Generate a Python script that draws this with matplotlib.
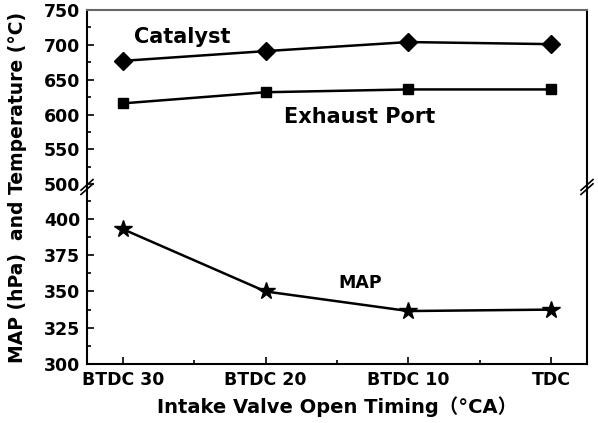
import matplotlib

matplotlib.use("Agg")

import matplotlib.pyplot as plt
from matplotlib.ticker import MultipleLocator

plt.rcParams["font.family"] = ["DejaVu Sans", "Noto Sans CJK SC"]
plt.rcParams["font.weight"] = "bold"
plt.rcParams["axes.labelweight"] = "bold"

TIMING_LABELS = ["BTDC 30", "BTDC 20", "BTDC 10", "TDC"]
CATALYST_TEMP = [677, 691, 704, 701]
EXHAUST_TEMP = [616, 632, 636, 636]
MAP_HPA = [393, 350, 336.5, 337.5]

x = list(range(len(TIMING_LABELS)))

fig = plt.figure(figsize=(5.98, 4.23), dpi=100)
left, right = 87 / 598, 587 / 598
top, mid, bottom = 1 - 10 / 423, 1 - 187 / 423, 1 - 364 / 423
ax_top = fig.add_axes([left, mid, right - left, top - mid])
ax_bot = fig.add_axes([left, bottom, right - left, mid - bottom])

line_kw = dict(color="black", linewidth=1.8)
ax_top.plot(x, CATALYST_TEMP, marker="D", markersize=9, **line_kw)
ax_top.plot(x, EXHAUST_TEMP, marker="s", markersize=7.5, **line_kw)
ax_bot.plot(x, MAP_HPA, marker="*", markersize=13, **line_kw)

ax_top.set_ylim(496, 750)
ax_bot.set_ylim(300, 422)
for ax in (ax_top, ax_bot):
    ax.set_xlim(-0.25, 3.25)
    ax.xaxis.set_minor_locator(MultipleLocator(0.5))
    ax.tick_params(which="both", direction="in", right=False, top=False, labelsize=12.5)
    ax.tick_params(which="major", length=5, width=1.2, pad=5)
    ax.tick_params(which="minor", length=3, width=1.2)
    for spine in ax.spines.values():
        spine.set_linewidth(1.5)

ax_top.yaxis.set_major_locator(MultipleLocator(50))
ax_top.yaxis.set_minor_locator(MultipleLocator(25))
ax_bot.yaxis.set_major_locator(MultipleLocator(25))
ax_bot.yaxis.set_minor_locator(MultipleLocator(12.5))

ax_top.spines["bottom"].set_visible(False)
ax_top.spines["top"].set_color("#666666")
ax_top.tick_params(axis="x", which="both", bottom=False, labelbottom=False)
ax_bot.spines["top"].set_visible(False)
ax_bot.set_xticks(x)
ax_bot.set_xticklabels(TIMING_LABELS)

# break marks on the left and right spines
for xs in (0, 1):
    for dy in (-0.012, 0.012):
        ax_bot.plot([xs - 0.012, xs + 0.012], [1 + dy - 0.03, 1 + dy + 0.03],
                    transform=ax_bot.transAxes, color="black", linewidth=1.2, clip_on=False)

ax_top.text(0.42, 711, "Catalyst", fontsize=15, ha="center", va="center")
ax_top.text(1.66, 596, "Exhaust Port", fontsize=15, ha="center", va="center")
ax_bot.text(1.66, 356, "MAP", fontsize=12.5, ha="center", va="center")

ax_bot.set_xlabel("Intake Valve Open Timing（°CA）", fontsize=14, labelpad=5)
fig.text(0.03, (top + bottom) / 2, "MAP (hPa)  and Temperature (°C)", rotation=90,
         fontsize=13.5, ha="center", va="center")

fig.savefig("out.png", dpi=100)
